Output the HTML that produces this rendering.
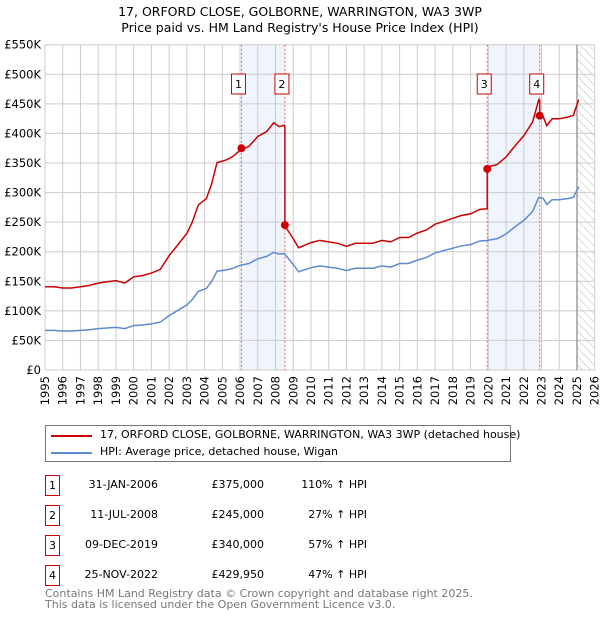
<!DOCTYPE html>
<html><head><meta charset="utf-8"><style>
body{margin:0;background:#fff;font-family:"DejaVu Sans","Liberation Sans",sans-serif;}
#wrap{position:relative;width:600px;height:620px;overflow:hidden}
.t{position:absolute;font-size:11px;color:#000;white-space:nowrap}
.box{position:absolute;width:13px;height:19px;border:1px solid #c00;font-size:11px;text-align:center;line-height:19px}
</style></head><body>
<div id="wrap">
<svg id="chart" width="600" height="420" style="position:absolute;left:0;top:0">
<text x="300" y="16" text-anchor="middle" font-size="12.5">17, ORFORD CLOSE, GOLBORNE, WARRINGTON, WA3 3WP</text>
<text x="300" y="32" text-anchor="middle" font-size="12.5">Price paid vs. HM Land Registry's House Price Index (HPI)</text>
<defs><pattern id="hatch" width="6" height="6" patternUnits="userSpaceOnUse" patternTransform="rotate(-45)"><line x1="0" y1="0" x2="0" y2="6" stroke="#bbb" stroke-width="1"/></pattern></defs>
<g id="g"></g>
</svg>
<div style="position:absolute;left:45px;top:425px;width:464px;height:35px;border:1px solid #777">
 <div style="position:absolute;left:5px;top:9px;width:41px;height:2px;background:#c00"></div>
 <div class="t" style="left:54px;top:2px">17, ORFORD CLOSE, GOLBORNE, WARRINGTON, WA3 3WP (detached house)</div>
 <div style="position:absolute;left:5px;top:26px;width:41px;height:2px;background:#5b8bd0"></div>
 <div class="t" style="left:54px;top:19px">HPI: Average price, detached house, Wigan</div>
</div>
<div id="tbl"></div>
<div class="t" style="left:45px;top:588px;color:#777;font-size:11px;line-height:11px">Contains HM Land Registry data © Crown copyright and database right 2025.<br>This data is licensed under the Open Government Licence v3.0.</div>
</div>
<script>
const hpiDates=[1995,1995.5,1996,1996.5,1997,1997.5,1998,1998.5,1999,1999.5,2000,2000.5,2001,2001.5,2002,2002.5,2003,2003.3,2003.65,2004.1,2004.4,2004.7,2005.2,2005.6,2006,2006.5,2007,2007.5,2007.9,2008.2,2008.5,2009,2009.3,2009.6,2010,2010.5,2011,2011.5,2012,2012.5,2013,2013.5,2014,2014.5,2015,2015.5,2016,2016.5,2017,2017.5,2018,2018.5,2019,2019.5,2019.9,2020.5,2021,2021.5,2022,2022.5,2022.85,2023.1,2023.3,2023.6,2024,2024.5,2024.8,2025.1];
const hpiValues=[67,67,66,66,67,68,70,71,72,70,75,76,78,81,92,101,110,119,133,138,150,167,169,172,177,180,188,192,199,196,197,178,166,169,173,176,174,172,168,172,172,172,176,174,180,180,186,190,198,202,206,210,212,218,219,222,230,242,253,268,292,290,280,288,288,290,292,310];
const segStarts=[1995,2008.53,2019.94,2022.9];
const segFactors=[2.1,1.245,1.565,1.475];
const saleDates=[2006.08,2008.53,2019.94,2022.9];
const saleValues=[375,245,340,429.95];
const saleLabels=["1","2","3","4"];
const saleDateText=["31-JAN-2006","11-JUL-2008","09-DEC-2019","25-NOV-2022"];
const salePriceText=["£375,000","£245,000","£340,000","£429,950"];
const salePctText=["110% ↑ HPI","27% ↑ HPI","57% ↑ HPI","47% ↑ HPI"];
const yTicks=[0,50,100,150,200,250,300,350,400,450,500,550];
const yTickLabels=["£0","£50K","£100K","£150K","£200K","£250K","£300K","£350K","£400K","£450K","£500K","£550K"];
const xTicks=[1995,1996,1997,1998,1999,2000,2001,2002,2003,2004,2005,2006,2007,2008,2009,2010,2011,2012,2013,2014,2015,2016,2017,2018,2019,2020,2021,2022,2023,2024,2025,2026];

const X0=45,X1=594.7,Y0=370,Y1=44.7;
const x=d=>X0+(d-1995)/31*(X1-X0);
const y=v=>Y0-(v/550)*(Y0-Y1);
const NS="http://www.w3.org/2000/svg";
const g=document.getElementById('g');
function mk(t,a){const e=document.createElementNS(NS,t);for(const k in a)e.setAttribute(k,a[k]);g.appendChild(e);return e;}
for(const [a,b] of [[0,1],[2,3]]){
 const r=mk('rect',{x:x(saleDates[a]),y:Y1,width:x(saleDates[b])-x(saleDates[a]),height:Y0-Y1,fill:'#f0f4fc'});
 
 
}
const h=mk('rect',{x:x(2025),y:Y1,width:X1-x(2025),height:Y0-Y1,fill:'url(#hatch)'});


yTicks.forEach((v,i)=>{
 const l=mk('line',{x1:X0,x2:X1,y1:y(v),y2:y(v),stroke:'#ccc','stroke-width':1});
 
 
 const t=mk('text',{x:X0-4,y:y(v)+4,'text-anchor':'end','font-size':11.5});
 t.textContent=yTickLabels[i];
 
 
});
xTicks.forEach(d=>{
 const l=mk('line',{x1:x(d),x2:x(d),y1:Y1,y2:Y0,stroke:'#ccc','stroke-width':1});
 
 
 const t=mk('text',{x:0,y:0,'text-anchor':'end','font-size':11.5,transform:`translate(${x(d)+4},${Y0+6}) rotate(-90)`});
 t.textContent=d;
 
 
});
const vl=mk('line',{x1:x(2025),x2:x(2025),y1:Y1,y2:Y0,stroke:'#888','stroke-width':1.2});


saleDates.forEach((d,i)=>{
 const l=mk('line',{x1:x(d),x2:x(d),y1:Y1,y2:Y0,stroke:'#f55','stroke-width':1,'stroke-dasharray':'2,2'});
 
 
 const r=mk('rect',{x:x(d)-10,y:74,width:14,height:20,fill:'#fff',stroke:'#c00'});
 
 
 const t=mk('text',{x:x(d)-3,y:88,'text-anchor':'middle','font-size':11});
 t.textContent=saleLabels[i];
 
 
});
const hp=mk('path',{d:hpiDates.map((d,i)=>(i?'L':'M')+x(d).toFixed(1)+','+y(hpiValues[i]).toFixed(1)).join(''),fill:'none',stroke:'#5b8bd0','stroke-width':1.5});


function hpiAt(d){for(let i=1;i<hpiDates.length;i++){if(d<=hpiDates[i]){const t=(d-hpiDates[i-1])/(hpiDates[i]-hpiDates[i-1]);return hpiValues[i-1]+t*(hpiValues[i]-hpiValues[i-1]);}}return hpiValues[hpiValues.length-1];}
let pts=[];
for(let s=0;s<segStarts.length;s++){
 const a=segStarts[s],b=s+1<segStarts.length?segStarts[s+1]:hpiDates[hpiDates.length-1];
 const ds=[a,...hpiDates.filter(d=>d>a&&d<b),b];
 ds.forEach(d=>pts.push([d,hpiAt(d)*segFactors[s]]));
}
const pp=mk('path',{d:pts.map((p,i)=>(i?'L':'M')+x(p[0]).toFixed(1)+','+y(p[1]).toFixed(1)).join(''),fill:'none',stroke:'#c00','stroke-width':1.5});


saleDates.forEach((d,i)=>{
 const c=mk('circle',{cx:x(d),cy:y(saleValues[i]),r:4,fill:'#c00'});
 
 
});
const tbl=document.getElementById('tbl');
saleLabels.forEach((lab,i)=>{
 const top=475+i*30;
 const b=document.createElement('div');b.className='box';b.style.left='45px';b.style.top=top+'px';b.textContent=lab;
 
 
 tbl.appendChild(b);
 [[saleDateText[i],158,'table-sale-date'],[salePriceText[i],264,'table-sale-price'],[salePctText[i],367,'table-sale-hpi-change']].forEach(([txt,r,nm])=>{
  const e=document.createElement('div');e.className='t';e.style.right=(600-r)+'px';e.style.top=(top+3)+'px';e.textContent=txt;
  
  
  tbl.appendChild(e);
 });
});
</script>
</body></html>
